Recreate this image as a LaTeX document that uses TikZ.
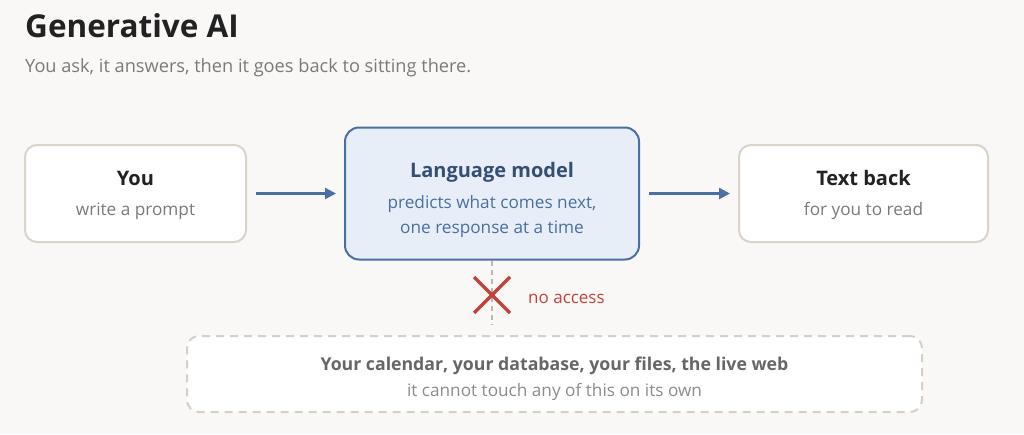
\documentclass[tikz,border=0pt]{standalone}
\usepackage{fontspec}
\setmainfont{Open Sans}
\usetikzlibrary{arrows.meta}
\definecolor{paper}{HTML}{FAF8F6}
\definecolor{cardline}{HTML}{D9D3CA}
\definecolor{modelblue}{HTML}{4A6FA5}
\definecolor{modelfill}{HTML}{E8EEF7}
\definecolor{ink}{HTML}{222222}
\definecolor{subink}{HTML}{7A7A7A}
\definecolor{denyred}{HTML}{C0443C}
\definecolor{dashline}{HTML}{BDB7AE}
\definecolor{ctxline}{HTML}{D5CFC6}
\tikzstyle{card} = [
  draw=cardline,
  line width=2pt,
  fill=white,
  rounded corners=12pt,
  inner sep=0pt,
]
\tikzstyle{head} = [ink, font=\fontsize{20}{24}\selectfont\bfseries, anchor=base, inner sep=0pt]
\tikzstyle{sub} = [subink, font=\fontsize{17.2}{20}\selectfont, anchor=base, inner sep=0pt]
\tikzstyle{flow} = [
  modelblue,
  line width=2.5pt,
  -{Triangle[length=11pt,width=11pt]},
  shorten <=9pt,
  shorten >=8pt,
]

\begin{document}
\begin{tikzpicture}[x=1pt, y=-1pt]
      \useasboundingbox[fill=paper] (0,0) rectangle (1024,434);

      % Title
      \node[ink, font=\fontsize{31.5}{36}\selectfont\bfseries, anchor=base west, inner sep=0pt] (title) at (25,37) {Generative AI};
      \node[subink, font=\fontsize{18.2}{22}\selectfont, anchor=base west, inner sep=0pt] (subtitle) at (25,72) {You ask, it answers, then it goes back to sitting there.};

      % Boxes
      \node[card, minimum width=221pt, minimum height=97pt] (you) at (135.5,193.5) {};
      \node[card, draw=modelblue, fill=modelfill, rounded corners=14pt, minimum width=294pt, minimum height=132pt] (model) at (492,193.5) {};
      \node[card, minimum width=249pt, minimum height=97pt] (back) at (863.5,193.5) {};
      \node[card, draw=ctxline, dash pattern=on 8pt off 6pt, minimum width=735pt, minimum height=76pt] (ctx) at (554.5,374) {};

      % Texts
      \node[head] (you head) at (135.5,185) {You};
      \node[sub] (you sub) at (135.5,215) {write a prompt};
      \node[head, modelblue!70!black] (model head) at (492,177) {Language model};
      \node[sub, modelblue] (model sub a) at (492,208) {predicts what comes next,};
      \node[sub, modelblue] (model sub b) at (492,233) {one response at a time};
      \node[head] (back head) at (863.5,185) {Text back};
      \node[sub] (back sub) at (863.5,215) {for you to read};
      \node[head, color=black!60, font=\fontsize{17.7}{22}\selectfont\bfseries] (ctx head) at (554.5,370) {Your calendar, your database, your files, the live web};
      \node[sub, color=black!45] (ctx sub) at (554.5,396) {it cannot touch any of this on its own};

      % Arrows
      \draw[flow] (you.east) -- (you.east -| model.west);
      \draw[flow] (model.east) -- (back.west |- model.east);

      % No access
      \coordinate (gap) at (492,295);
      \draw[dashline, line width=2.5pt, dash pattern=on 5pt off 4pt, shorten >=11pt] (model.south) -- (model.south |- ctx.north);
      \draw[denyred, line width=3.5pt] ([shift={(-18,-18)}]gap) -- ([shift={(18,18)}]gap);
      \draw[denyred, line width=3.5pt] ([shift={(-18,18)}]gap) -- ([shift={(18,-18)}]gap);
      \node[denyred, font=\fontsize{17}{20}\selectfont, anchor=base west, inner sep=0pt] (deny) at (528,303) {no access};
    \end{tikzpicture}
\end{document}
